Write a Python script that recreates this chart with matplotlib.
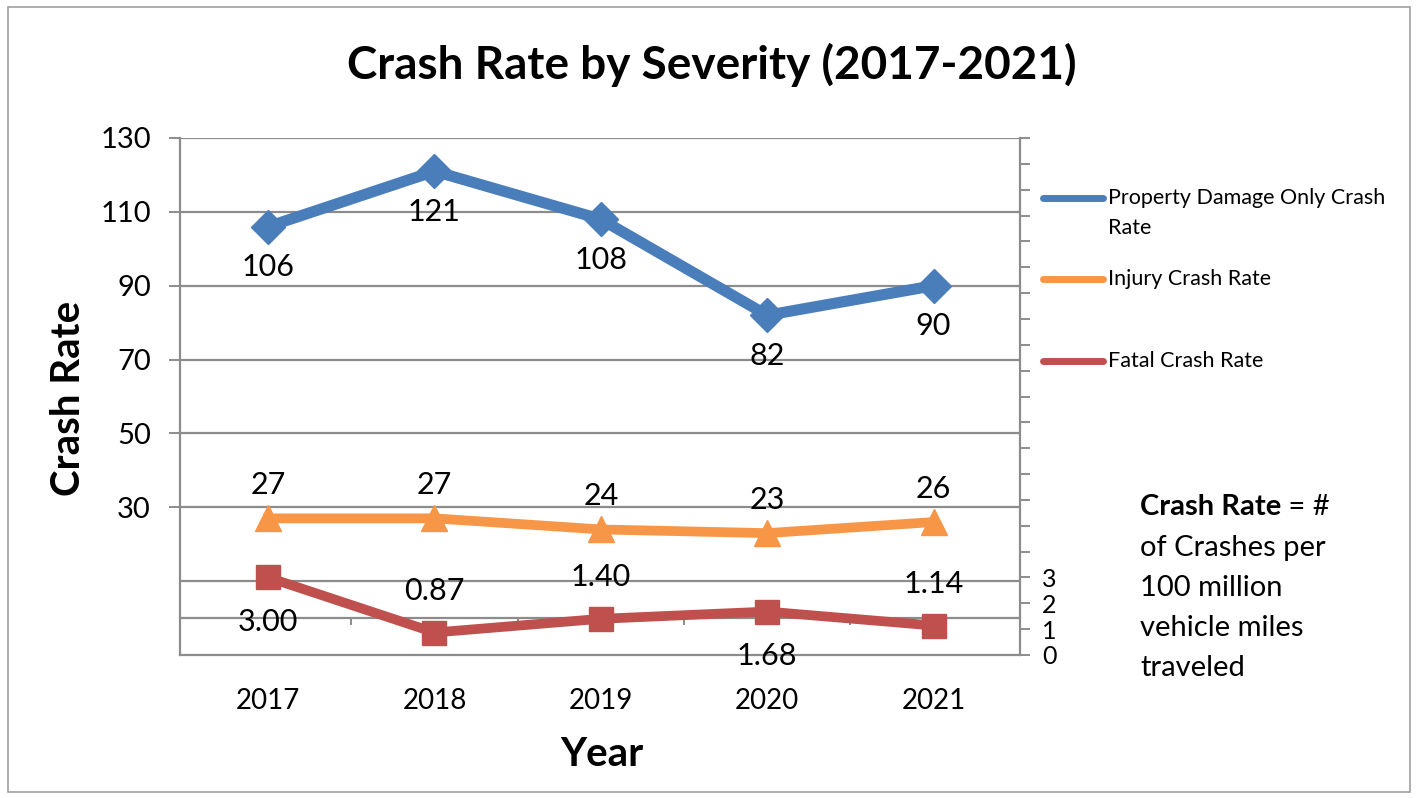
import numpy as np
import matplotlib
matplotlib.use("Agg")
import matplotlib.pyplot as plt
from matplotlib.lines import Line2D
from matplotlib.patches import Rectangle

plt.rcParams["font.family"] = ["Lato", "DejaVu Sans"]

# ---------------------------------------------------------------------------
# Data
# ---------------------------------------------------------------------------
years = ["2017", "2018", "2019", "2020", "2021"]
pdo_rate = [106, 121, 108, 82, 90]
injury_rate = [27, 27, 24, 23, 26]
fatal_rate = [3.00, 0.87, 1.40, 1.68, 1.14]
fatal_labels = ["3.00", "0.87", "1.40", "1.68", "1.14"]
fatal_label_above = [False, True, True, False, True]

left_ticks = [130, 110, 90, 70, 50, 30]
grid_levels = [130, 110, 90, 70, 50, 30, 10, 0]
right_labels = {0: "0", 1: "1", 2: "2", 3: "3"}

BLUE = "#4a7ebb"
ORANGE = "#f79646"
RED = "#c0504d"
GRID = "#8c8c8c"

W, H = 1419, 798
fig = plt.figure(figsize=(W / 100, H / 100), dpi=100)

# outer frame
fig.add_artist(Rectangle((8 / W, 1 - 792 / H), 1402 / W, 785 / H,
                         transform=fig.transFigure, fill=False,
                         edgecolor="#a0a0a0", lw=1.2))

ax = fig.add_axes([180 / W, 1 - 655 / H, 840 / W, 517 / H])
x = np.arange(len(years))

ax.set_xlim(-0.53, 4.52)
ax.set_ylim(-10, 130)
for g in grid_levels:
    ax.axhline(g, color=GRID, lw=1.6, zorder=1)
# the stray category axis at 0 with its tick marks
for m in x[:-1] + 0.5:
    ax.plot([m, m], [0, -1.6], color=GRID, lw=1.4, zorder=1)

ax.set_yticks(left_ticks)
ax.set_yticklabels([str(t) for t in left_ticks])
ax.tick_params(axis="y", length=8, width=1.4, color=GRID, pad=13, labelsize=21)
ax.set_xticks(x)
ax.set_xticklabels(years)
ax.tick_params(axis="x", length=0, pad=24, labelsize=20)

for side in ["top", "right"]:
    ax.spines[side].set_visible(False)
for side in ["left", "bottom"]:
    ax.spines[side].set_color(GRID)
    ax.spines[side].set_linewidth(1.6)

ax.plot(x, pdo_rate, color=BLUE, lw=8, marker="D", markersize=17, zorder=4)
ax.plot(x, injury_rate, color=ORANGE, lw=7, marker="^", markersize=19, zorder=4)

for xi, v in zip(x, pdo_rate):
    ax.annotate(str(v), (xi, v), xytext=(0, -29), textcoords="offset points",
                ha="center", va="center", fontsize=22)
for xi, v in zip(x, injury_rate):
    ax.annotate(str(v), (xi, v), xytext=(0, 24), textcoords="offset points",
                ha="center", va="center", fontsize=22)

# secondary axis for the fatal crash rate
ax2 = ax.twinx()
ax2.set_ylim(0, 20)
ax2.set_xlim(ax.get_xlim())
ax2.set_yticks(np.arange(0, 21))
ax2.set_yticklabels([right_labels.get(t, "") for t in range(21)])
ax2.tick_params(axis="y", length=7, width=1.4, color=GRID, pad=9, labelsize=18)
for side in ["top", "left", "bottom"]:
    ax2.spines[side].set_visible(False)
ax2.spines["right"].set_color(GRID)
ax2.spines["right"].set_linewidth(1.6)

ax2.plot(x, fatal_rate, color=RED, lw=7, marker="s", markersize=17, zorder=4)
for xi, v, lab, up in zip(x, fatal_rate, fatal_labels, fatal_label_above):
    ax2.annotate(lab, (xi, v), xytext=(0, 30 if up else -32),
                 textcoords="offset points", ha="center", va="center",
                 fontsize=22)

# titles
fig.text(712 / W, 1 - 65 / H, "Crash Rate by Severity (2017-2021)",
         ha="center", va="center", fontsize=33, fontweight="bold")
fig.text(68 / W, 1 - 398 / H, "Crash Rate", rotation=90,
         ha="center", va="center", fontsize=29, fontweight="bold")
fig.text(602 / W, 1 - 755 / H, "Year", ha="center", va="center",
         fontsize=29, fontweight="bold")

# legend drawn by hand so the handle sits on the first text line
legend_items = [
    (BLUE, "Property Damage Only Crash", 198),
    (ORANGE, "Injury Crash Rate", 279),
    (RED, "Fatal Crash Rate", 361),
]
for col, lab, yy in legend_items:
    fig.add_artist(Line2D([1043 / W, 1103 / W], [1 - yy / H, 1 - yy / H],
                          transform=fig.transFigure, color=col, lw=5,
                          solid_capstyle="round"))
    fig.text(1108 / W, 1 - yy / H, lab, ha="left", va="center", fontsize=15.5)
fig.text(1108 / W, 1 - 228 / H, "Rate", ha="left", va="center", fontsize=15.5)

# side note
bold = fig.text(1140 / W, 1 - 507 / H, "Crash Rate", ha="left", va="center",
                fontsize=21, fontweight="bold")
ax.annotate(" = #", xy=(1, 0.5), xycoords=bold, ha="left", va="center",
            fontsize=21, annotation_clip=False)
note_lines = ["of Crashes per", "100 million", "vehicle miles", "traveled"]
for i, line in enumerate(note_lines):
    fig.text(1140 / W, 1 - (548 + 40 * i) / H, line, ha="left", va="center",
             fontsize=21)

fig.savefig("out.png", dpi=100)
